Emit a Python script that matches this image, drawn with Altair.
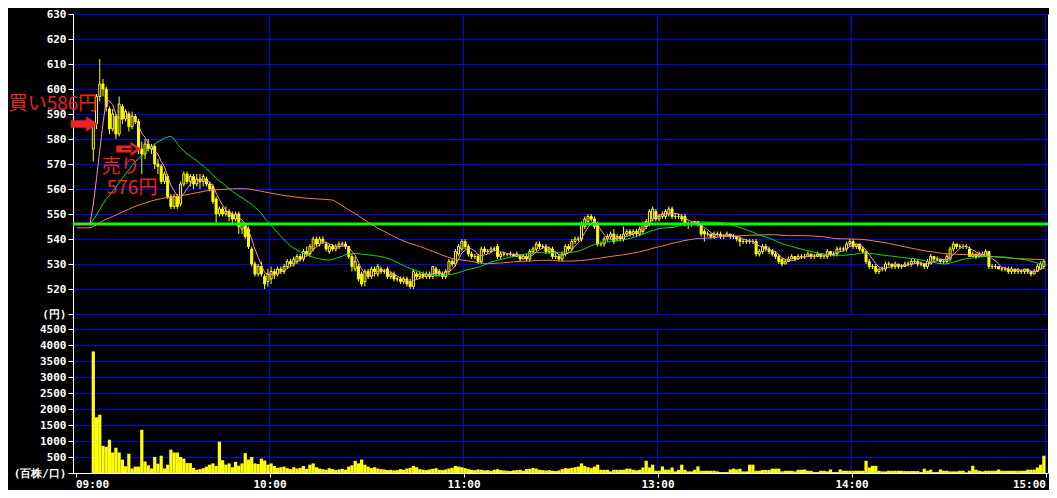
import altair as alt
import pandas as pd

# ---------------- data ----------------
first_minute = 5  # first trade at 09:05 (minutes counted on the session axis, lunch removed)

opens = [
    576, 586, 597, 602, 600, 592, 584, 589, 582, 593,
    588, 590, 585, 589, 587, 576, 574, 578, 576, 577,
    570, 569, 563, 565, 557, 553, 557, 554, 562, 566,
    563, 565, 562, 564, 563, 564, 562, 561, 556, 550,
    552, 550, 551, 550, 548, 550, 544, 545, 544, 536,
    530, 526, 529, 525, 523, 524, 527, 526, 528, 527,
    529, 531, 530, 531, 533, 532, 535, 534, 536, 540,
    538, 540, 538, 535, 537, 536, 537, 538, 538, 537,
    533, 528, 529, 526, 523, 527, 525, 528, 526, 528,
    527, 528, 525, 526, 524, 524, 523, 524, 523, 521,
    526, 525, 526, 525, 526, 525, 528, 527, 526, 525,
    527, 531, 530, 534, 536, 539, 537, 534, 533, 533,
    531, 536, 535, 535, 536, 537, 533, 534, 534, 534,
    534, 533, 533, 532, 533, 532, 535, 536, 538, 537,
    537, 535, 536, 533, 533, 532, 534, 537, 536, 539,
    540, 540, 545, 547, 549, 548, 546, 538, 538, 540,
    541, 542, 540, 541, 540, 542, 543, 542, 543, 542,
    543, 545, 546, 548, 551, 548, 549, 549, 550, 552,
    549, 549, 549, 549, 546, 546, 546, 547, 546, 543,
    542, 542, 541, 542, 542, 541, 541, 542, 541, 541,
    540, 539, 539, 539, 539, 539, 534, 535, 537, 536,
    535, 534, 533, 532, 530, 531, 532, 533, 532, 533,
    533, 533, 534, 533, 533, 534, 533, 533, 535, 534,
    534, 536, 536, 536, 538, 539, 537, 538, 536, 535,
    531, 529, 529, 527, 528, 528, 530, 530, 529, 530,
    529, 529, 530, 530, 531, 531, 530, 530, 529, 530,
    533, 532, 532, 531, 531, 532, 536, 538, 537, 537,
    537, 536, 533, 534, 533, 533, 533, 535, 529, 529,
    529, 528, 528, 528, 527, 528, 527, 527, 527, 528,
    527, 526, 527, 528, 529,
]
highs = [
    587, 598, 612, 604, 601, 593, 592, 590, 597, 594,
    592, 591, 591, 590, 588, 579, 580, 580, 578, 578,
    572, 570, 567, 566, 558, 558, 558, 563, 567, 567,
    566, 566, 566, 566, 566, 565, 563, 562, 557, 553,
    553, 553, 552, 551, 551, 551, 547, 546, 545, 537,
    531, 530, 531, 526, 528, 529, 528, 529, 529, 530,
    532, 532, 533, 534, 534, 536, 537, 538, 541, 541,
    541, 541, 539, 538, 538, 538, 539, 539, 539, 537,
    534, 533, 530, 527, 528, 528, 529, 529, 530, 529,
    528, 529, 527, 527, 525, 525, 525, 525, 524, 528,
    527, 527, 527, 527, 527, 529, 529, 528, 527, 528,
    532, 532, 536, 538, 540, 540, 538, 535, 534, 534,
    537, 537, 536, 537, 537, 538, 535, 535, 534, 535,
    534, 535, 534, 534, 534, 536, 537, 539, 539, 538,
    538, 537, 537, 535, 534, 535, 538, 538, 540, 541,
    541, 547, 549, 550, 550, 549, 547, 539, 541, 542,
    543, 544, 542, 542, 545, 544, 544, 544, 544, 545,
    547, 548, 552, 553, 552, 550, 551, 552, 553, 553,
    550, 550, 550, 550, 547, 547, 547, 547, 546, 544,
    543, 542, 543, 543, 543, 542, 543, 542, 542, 541,
    541, 540, 540, 540, 540, 540, 536, 538, 538, 537,
    536, 535, 534, 532, 532, 533, 534, 533, 534, 534,
    534, 535, 534, 534, 535, 534, 534, 536, 535, 535,
    537, 537, 537, 539, 540, 540, 538, 538, 537, 535,
    532, 530, 530, 528, 529, 531, 531, 530, 531, 530,
    530, 531, 531, 532, 532, 532, 531, 530, 532, 534,
    533, 533, 532, 532, 534, 537, 539, 538, 538, 538,
    538, 537, 535, 534, 535, 535, 536, 535, 530, 530,
    529, 529, 529, 529, 529, 528, 528, 528, 528, 528,
    527, 528, 530, 531, 532,
]
lows = [
    571, 584, 595, 597, 591, 582, 583, 580, 581, 586,
    587, 583, 584, 586, 574, 566, 572, 575, 574, 568,
    566, 562, 562, 556, 552, 552, 552, 553, 561, 562,
    561, 560, 561, 560, 561, 561, 559, 554, 546, 549,
    549, 549, 547, 546, 547, 542, 542, 540, 536, 529,
    525, 525, 525, 520, 521, 522, 524, 525, 526, 526,
    528, 529, 529, 530, 531, 531, 533, 533, 535, 537,
    537, 538, 535, 534, 535, 535, 536, 537, 536, 532,
    527, 527, 523, 521, 521, 524, 524, 525, 525, 526,
    526, 524, 524, 523, 523, 522, 522, 521, 520, 520,
    524, 524, 524, 524, 524, 524, 525, 525, 524, 524,
    526, 529, 529, 533, 535, 536, 533, 532, 532, 530,
    530, 534, 534, 535, 535, 532, 532, 533, 533, 533,
    533, 533, 531, 532, 531, 531, 534, 535, 536, 536,
    534, 534, 532, 532, 531, 531, 533, 535, 535, 538,
    539, 539, 544, 546, 547, 544, 537, 537, 537, 539,
    540, 538, 539, 539, 539, 541, 541, 541, 541, 541,
    542, 544, 545, 547, 547, 547, 548, 548, 549, 548,
    548, 548, 547, 545, 544, 545, 546, 545, 541, 539,
    541, 540, 540, 541, 540, 540, 541, 540, 540, 539,
    537, 538, 538, 538, 538, 533, 533, 534, 535, 534,
    533, 532, 530, 529, 530, 531, 532, 531, 532, 532,
    532, 533, 532, 532, 533, 532, 532, 532, 533, 533,
    533, 535, 535, 535, 537, 536, 536, 535, 534, 530,
    528, 528, 526, 526, 527, 527, 529, 528, 528, 528,
    528, 529, 529, 529, 530, 529, 529, 528, 528, 530,
    531, 531, 530, 530, 530, 531, 535, 536, 536, 536,
    536, 533, 533, 532, 533, 533, 533, 528, 528, 528,
    528, 527, 527, 526, 526, 526, 526, 526, 526, 526,
    525, 526, 527, 528, 528,
]
closes = [
    586, 597, 602, 600, 593, 584, 590, 582, 594, 588,
    591, 585, 589, 587, 576, 574, 578, 576, 577, 570,
    569, 563, 566, 557, 553, 557, 553, 562, 566, 563,
    565, 562, 564, 563, 565, 562, 560, 555, 550, 552,
    550, 551, 549, 548, 550, 545, 546, 541, 537, 530,
    526, 529, 526, 522, 526, 527, 526, 528, 527, 529,
    531, 530, 532, 533, 532, 535, 534, 537, 540, 538,
    540, 539, 536, 537, 536, 537, 538, 538, 537, 533,
    529, 531, 524, 522, 527, 525, 528, 527, 529, 527,
    527, 525, 526, 524, 524, 523, 524, 522, 521, 527,
    525, 526, 525, 526, 525, 529, 526, 526, 525, 527,
    531, 530, 535, 537, 539, 537, 534, 533, 533, 531,
    536, 535, 535, 536, 536, 533, 534, 534, 534, 534,
    533, 534, 532, 533, 532, 535, 536, 538, 537, 537,
    535, 536, 533, 533, 532, 534, 537, 536, 539, 540,
    540, 546, 548, 549, 548, 545, 538, 538, 540, 541,
    542, 539, 541, 540, 542, 543, 542, 543, 542, 544,
    546, 547, 551, 552, 548, 549, 550, 551, 552, 549,
    549, 549, 548, 546, 546, 546, 547, 546, 542, 542,
    542, 541, 542, 542, 541, 541, 542, 541, 541, 540,
    539, 539, 539, 539, 539, 534, 535, 537, 536, 535,
    534, 533, 531, 530, 531, 532, 533, 532, 533, 533,
    533, 534, 533, 533, 534, 533, 533, 535, 534, 534,
    536, 536, 536, 538, 539, 537, 538, 536, 535, 531,
    529, 529, 527, 528, 528, 530, 530, 529, 530, 529,
    529, 530, 530, 531, 531, 530, 530, 529, 531, 533,
    532, 532, 531, 531, 533, 536, 538, 537, 537, 537,
    537, 533, 534, 533, 534, 534, 535, 529, 529, 529,
    528, 528, 528, 527, 528, 527, 528, 527, 528, 527,
    526, 527, 529, 530, 531,
]
volumes = [
    3800, 1740, 1820, 850, 820, 1040, 640, 790, 640, 420,
    210, 600, 140, 200, 200, 1350, 360, 240, 140, 500,
    290, 540, 140, 260, 730, 640, 640, 500, 450, 310,
    310, 160, 100, 120, 150, 200, 260, 300, 220, 980,
    400, 260, 300, 180, 350, 230, 300, 620, 420, 500,
    300, 280, 450, 390, 260, 300, 220, 160, 180, 200,
    150, 120, 180, 140, 160, 220, 130, 260, 300, 180,
    140, 120, 100, 150, 120, 90, 110, 130, 100, 200,
    240, 380, 300, 420, 260, 200, 150, 180, 140, 120,
    110, 90, 100, 80, 90, 120, 100, 140, 160, 220,
    180, 120, 100, 90, 110, 130, 150, 100, 90, 110,
    140, 160, 220, 200, 180, 150, 120, 100, 90, 110,
    100, 80, 90, 70, 100, 120, 90, 80, 70, 60,
    80, 90, 100, 70, 120, 130, 160, 140, 100, 90,
    80, 90, 70, 60, 80, 120, 150, 140, 160, 180,
    200, 300, 220, 180, 150, 200, 260, 100, 100, 100,
    50, 100, 100, 100, 100, 135, 135, 100, 80, 100,
    172, 380, 172, 260, 70, 70, 206, 103, 103, 172,
    50, 100, 260, 100, 50, 50, 100, 206, 70, 70,
    70, 70, 70, 50, 30, 30, 30, 110, 135, 110,
    135, 50, 50, 260, 260, 70, 70, 94, 94, 94,
    135, 135, 135, 50, 70, 70, 70, 50, 100, 100,
    110, 70, 70, 30, 30, 70, 70, 50, 110, 30,
    30, 110, 70, 70, 70, 70, 70, 70, 70, 380,
    172, 225, 225, 70, 50, 50, 70, 70, 70, 70,
    70, 60, 60, 60, 60, 60, 30, 135, 70, 103,
    30, 30, 110, 70, 70, 50, 50, 50, 70, 70,
    20, 70, 225, 103, 70, 50, 70, 70, 70, 70,
    110, 70, 70, 70, 70, 70, 70, 70, 70, 103,
    103, 103, 172, 260, 540,
]

prev_close = 546          # previous day's close (thick green line)
long_ma_seed = 544.5      # level of the long average before the open
ma_short, ma_mid, ma_long = 5, 25, 75

price_ticks = [510, 520, 530, 540, 550, 560, 570, 580, 590, 600, 610, 620, 630]
volume_ticks = [0, 500, 1000, 1500, 2000, 2500, 3000, 3500, 4000, 4500]
time_ticks = [0, 60, 120, 180, 240, 300]
time_labels = ["09:00", "10:00", "11:00", "13:00", "14:00", "15:00"]
grid_minutes = [60, 120, 180, 240, 300]
price_unit = "(円)"
volume_unit = "(百株/口)"

buy_minute, buy_price, buy_label = 5, 586, "買い586円"
sell_minute, sell_price = 20, 576
sell_label_1, sell_label_2 = "売り", "576円"

# ---------------- tables ----------------
n = len(closes)
assert len(opens) == n and len(highs) == n and len(lows) == n and len(volumes) == n
minutes = list(range(first_minute, first_minute + n))
bars = pd.DataFrame({"m": minutes, "o": opens, "h": highs, "l": lows, "c": closes, "v": volumes})
bars["mc"] = bars["m"] + 0.5
bars["m1"] = bars["m"] + 1
bars["v0"] = 0
bars["rise"] = bars["c"] > bars["o"]


def moving_average(period, seed):
    padded = [seed] * period + closes
    vals = [sum(padded[i + 1:i + 1 + period]) / period for i in range(n)]
    pre = [(m + 0.5, seed) for m in range(first_minute)]
    pts = pre + list(zip(bars["mc"], vals))
    return pd.DataFrame(pts, columns=["mc", "ma"])


ma_s = moving_average(ma_short, prev_close)
ma_m = moving_average(ma_mid, prev_close)
ma_l = moving_average(ma_long, long_ma_seed)

grid_df = pd.DataFrame({"m": grid_minutes, "plo": price_ticks[0], "phi": price_ticks[-1],
                        "vlo": volume_ticks[0], "vhi": volume_ticks[-1]})
buy_df = pd.DataFrame({"mc": [buy_minute + 0.5], "p": [buy_price], "t": [buy_label]})
sell_df = pd.DataFrame({"mc": [sell_minute + 0.5], "p": [sell_price], "t1": [sell_label_1], "t2": [sell_label_2]})
prev_df = pd.DataFrame({"p": [prev_close]})

# ---------------- styling ----------------
YELLOW = "#ffff00"
BLUE = "#0000ff"
RED = "#e82424"
FONT = "DejaVu Sans Mono"
JP = "Noto Sans CJK JP"

xs = alt.Scale(domain=[-0.7732, 300.773], nice=False, zero=False, padding=0)
ps = alt.Scale(domain=[446.4, 630], nice=False, zero=False, padding=0)
vs = alt.Scale(domain=[0, 14343.75], nice=False, zero=False, padding=0)

axis_common = dict(labelColor="white", labelFont=FONT, labelFontWeight="bold", labelFontSize=11,
                   tickColor="white", tickSize=5, tickWidth=1, domainColor="white", title=None,
                   labelOverlap=False, tickCount=30)

price_axis = alt.Axis(orient="left", values=price_ticks, grid=True, gridColor=BLUE, gridWidth=1,
                      labelPadding=2, labelExpr=f"datum.value == {price_ticks[0]} ? '{price_unit}' : datum.label",
                      **axis_common)
volume_axis = alt.Axis(orient="left", values=volume_ticks, grid=True, domain=False, format="d",
                       gridColor={"condition": {"test": "datum.value == 0", "value": "transparent"}, "value": BLUE},
                       gridWidth=1, labelPadding=2,
                       labelExpr=f"datum.value == 0 ? '{volume_unit}' : datum.label", **axis_common)
time_expr = " : ".join(f"datum.value == {t} ? '{lab}'" for t, lab in zip(time_ticks, time_labels)) + " : ''"
time_axis = alt.Axis(values=time_ticks, grid=False, labelFlush=12, labelPadding=1, labelExpr=time_expr,
                     **{**axis_common, "tickSize": 4})


def X(f):
    return alt.X(f, scale=xs)


def PY(f):
    return alt.Y(f, scale=ps)


# ---------------- price panel ----------------
vgrid_p = alt.Chart(grid_df).mark_rule(color=BLUE, strokeWidth=1).encode(
    x=X("m:Q"), y=PY("plo:Q"), y2="phi:Q")
wicks = alt.Chart(bars).mark_rule(color=YELLOW, strokeWidth=1).encode(
    x=X("mc:Q"), y=alt.Y("l:Q", scale=ps, axis=price_axis), y2="h:Q")
bodies = alt.Chart(bars).mark_bar(size=2, stroke=YELLOW, strokeWidth=1).encode(
    x=X("mc:Q"), y=PY("o:Q"), y2="c:Q",
    fill=alt.condition("datum.rise", alt.value("black"), alt.value(YELLOW)))
prev_line = alt.Chart(prev_df).mark_rule(color="#00ff00", strokeWidth=3).encode(y=PY("p:Q"))


def ma_line(df, color):
    return alt.Chart(df).mark_line(color=color, strokeWidth=1, interpolate="linear").encode(
        x=X("mc:Q"), y=PY("ma:Q"))


ARROW = "M -1 -0.28 L 0.15 -0.28 L 0.15 -0.58 L 1 0 L 0.15 0.58 L 0.15 0.28 L -1 0.28 Z"
INNER = "M -0.55 0 L 0.5 0 M 0.2 -0.25 L 0.55 0 L 0.2 0.25"

buy_text = alt.Chart(buy_df).mark_text(align="right", baseline="middle", dx=4, dy=-20, fontSize=19,
                                       font=JP, color=RED).encode(
    x=X("mc:Q"), y=PY("p:Q"), text="t:N")
buy_arrow = alt.Chart(buy_df).mark_point(shape=ARROW, size=729, filled=True, color=RED, opacity=1,
                                         strokeWidth=0, xOffset=-9).encode(x=X("mc:Q"), y=PY("p:Q"))
sell_arrow = alt.Chart(sell_df).mark_point(shape=ARROW, size=625, filled=True, color=RED, opacity=1,
                                          strokeWidth=0, xOffset=-13).encode(x=X("mc:Q"), y=PY("p:Q"))
sell_inner = alt.Chart(sell_df).mark_point(shape=INNER, size=625, filled=False, color="black", opacity=1,
                                          strokeWidth=1.3, xOffset=-13).encode(x=X("mc:Q"), y=PY("p:Q"))
sell_text1 = alt.Chart(sell_df).mark_text(align="left", baseline="middle", dx=-40, dy=18, fontSize=19,
                                          font=JP, color=RED).encode(
    x=X("mc:Q"), y=PY("p:Q"), text="t1:N")
sell_text2 = alt.Chart(sell_df).mark_text(align="left", baseline="middle", dx=-35, dy=39, fontSize=19,
                                          font=JP, color=RED).encode(
    x=X("mc:Q"), y=PY("p:Q"), text="t2:N")

price_panel = alt.layer(vgrid_p, wicks, bodies, prev_line,
                        ma_line(ma_l, "#f0844c"), ma_line(ma_m, "#10e010"), ma_line(ma_s, "#f090d8"),
                        buy_arrow, buy_text, sell_arrow, sell_inner, sell_text1, sell_text2)

# ---------------- volume panel ----------------
vgrid_v = alt.Chart(grid_df).mark_rule(color=BLUE, strokeWidth=1).encode(
    x=X("m:Q"), y=alt.Y("vlo:Q", scale=vs), y2="vhi:Q")
vol_bars = alt.Chart(bars).mark_rect(color=YELLOW).encode(
    x=alt.X("m:Q", scale=xs, axis=time_axis), x2="m1:Q",
    y=alt.Y("v:Q", scale=vs, axis=volume_axis), y2="v0:Q")
volume_panel = alt.layer(vgrid_v, vol_bars)

# right-hand frame line
frame = alt.Chart(pd.DataFrame({"b": [0, 1]})).mark_rule(opacity=0).encode(
    y=alt.Y("b:Q", scale=alt.Scale(domain=[0, 1]),
            axis=alt.Axis(orient="right", labels=False, ticks=False, grid=False, domainColor="white", title=None)))

chart = alt.layer(price_panel, volume_panel, frame).resolve_scale(y="independent").properties(
    width=975, height=459,
    padding={"left": 65, "top": 6, "right": 1, "bottom": 17},
    autosize=alt.AutoSizeParams(type="none"),
    background="black",
).configure_view(stroke=None)

chart.save("out.html", embed_options={"renderer": "svg", "actions": False})
